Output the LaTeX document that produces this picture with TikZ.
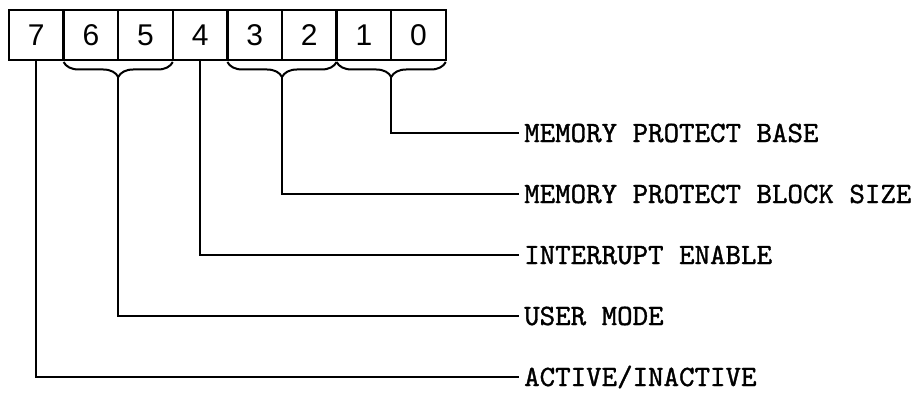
\documentclass[tikz,border=0pt]{standalone}
\usepackage{fontspec}
\newfontfamily\labelfont{lmmono10-regular.otf}[FakeBold=1.2]
\newfontfamily\bitfont{Liberation Sans}
\usetikzlibrary{positioning,calc,decorations.pathreplacing}

\tikzset{
  bit/.style={draw, line width=2.4pt, minimum width=54.6pt, minimum height=50pt,
    inner sep=0pt, outer sep=0pt, font=\bitfont\fontsize{30}{30}\selectfont},
  field/.style={anchor=west, inner sep=5pt, font=\labelfont\fontsize{29.5}{30}\selectfont},
  lead/.style={line width=2pt},
  brc/.style={line width=2pt, decorate,
    decoration={brace, mirror, amplitude=15pt, raise=2pt}}
}

\begin{document}
\begin{tikzpicture}[x=1pt,y=1pt]

  \useasboundingbox (0,0) rectangle (918,396);

  \node[bit] (b7) at (36.3,361) {7};
  \node[bit, right=0pt of b7] (b6) {6};
  \node[bit, right=0pt of b6] (b5) {5};
  \node[bit, right=0pt of b5] (b4) {4};
  \node[bit, right=0pt of b4] (b3) {3};
  \node[bit, right=0pt of b3] (b2) {2};
  \node[bit, right=0pt of b2] (b1) {1};
  \node[bit, right=0pt of b1] (b0) {0};

  \draw[brc] (b6.south west) -- (b5.south east);
  \draw[brc] (b3.south west) -- (b2.south east);
  \draw[brc] (b1.south west) -- (b0.south east);
  \coordinate (t65) at ($(b6.south east)+(0,-17)$);
  \coordinate (t32) at ($(b3.south east)+(0,-17)$);
  \coordinate (t10) at ($(b1.south east)+(0,-17)$);

  \node[field] (base) at (519,263) {MEMORY PROTECT BASE};
  \node[field] (size) at (519,202) {MEMORY PROTECT BLOCK SIZE};
  \node[field] (intr) at (519,141) {INTERRUPT ENABLE};
  \node[field] (user) at (519,80) {USER MODE};
  \node[field] (actv) at (519,19) {ACTIVE/INACTIVE};

  \draw[lead] (t10) |- (base.west);
  \draw[lead] (t32) |- (size.west);
  \draw[lead] (b4.south) |- (intr.west);
  \draw[lead] (t65) |- (user.west);
  \draw[lead] (b7.south) |- (actv.west);

\end{tikzpicture}
\end{document}
